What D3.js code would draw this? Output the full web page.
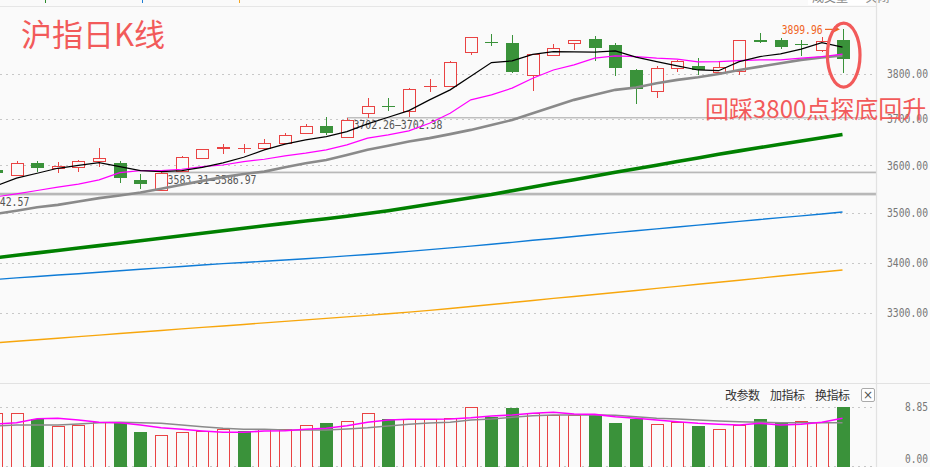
<!DOCTYPE html>
<html><head><meta charset="utf-8">
<script src="https://cdn.jsdelivr.net/npm/d3@7"></script>
<style>html,body{margin:0;padding:0;background:#fafafa;overflow:hidden}</style>
</head><body><svg id="c" width="930" height="467"></svg>
<script>
// ---------- DATA ----------
const days = d3.range(42);            // trading-day index, 0 = partially visible first candle
const open  = [3590.4,3579.3,3605.2,3593.1,3596.0,3608.8,3605.2,3569.5,3548.0,3587.7,3615.3,3635.9,3635.4,3635.9,3647.5,3668.9,3684.0,3660.3,3711.3,3728.7,3716.6,3770.4,3771.8,3847.1,3871.1,3869.1,3795.1,3841.2,3868.4,3877.5,3864.6,3807.9,3760.7,3810.9,3816.3,3802.7,3805.0,3874.7,3875.2,3866.6,3851.6,3875.9];
const high  = [3594.6,3609.5,3609.5,3607.3,3611.5,3636.7,3608.8,3581.4,3585.2,3619.1,3635.9,3646.0,3645.3,3656.7,3668.9,3688.3,3703.4,3702.3,3745.3,3745.3,3768.0,3787.9,3827.2,3882.7,3889.5,3887.9,3844.2,3866.8,3875.9,3884.9,3869.8,3809.0,3817.0,3830.6,3834.4,3827.6,3875.9,3891.7,3880.4,3875.2,3883.4,3899.96];
const low   = [3580.0,3578.5,3586.2,3583.5,3586.8,3596.0,3563.9,3550.1,3546.5,3586.2,3615.3,3624.5,3627.3,3632.4,3646.0,3667.4,3664.6,3658.8,3702.5,3717.9,3704.7,3759.9,3769.8,3841.2,3861.6,3801.1,3762.1,3839.6,3853.2,3829.0,3794.5,3733.4,3746.6,3804.0,3796.0,3796.0,3796.7,3869.1,3856.2,3840.3,3849.4,3801.8];
const close = [3584.1,3604.5,3595.2,3598.1,3608.8,3615.3,3574.3,3561.8,3583.5,3617.4,3634.6,3638.9,3636.3,3647.5,3664.6,3684.0,3668.9,3696.8,3727.6,3727.9,3765.1,3771.3,3825.4,3882.0,3870.2,3802.7,3843.5,3857.1,3875.2,3858.4,3813.1,3766.5,3811.8,3826.0,3807.9,3812.5,3875.2,3873.8,3860.7,3865.7,3872.9,3833.5];

const ma5   = [3557.0,3573.1,3583.5,3593.9,3600.2,3605.8,3597.3,3588.9,3586.8,3588.9,3596.0,3605.2,3617.4,3633.1,3645.3,3654.5,3661.6,3672.4,3688.9,3703.4,3717.9,3741.5,3763.6,3793.8,3824.5,3828.3,3843.0,3849.2,3848.7,3848.0,3851.0,3836.7,3826.7,3817.0,3807.9,3806.3,3826.7,3838.1,3844.2,3854.8,3869.8,3859.3];
const ma10  = [3534.0,3540.3,3547.2,3554.3,3560.5,3569.5,3584.8,3588.9,3588.9,3591.9,3597.3,3600.9,3607.9,3613.1,3620.2,3626.0,3633.1,3643.8,3658.2,3665.3,3673.9,3690.4,3712.2,3741.5,3752.6,3767.4,3789.4,3807.9,3819.3,3834.4,3839.6,3838.1,3834.4,3832.2,3826.0,3826.7,3829.0,3830.6,3830.6,3834.4,3838.1,3843.5];
const ma20  = [3498.6,3505.4,3512.5,3517.3,3524.2,3531.3,3536.7,3543.0,3550.7,3559.1,3567.4,3575.2,3582.0,3586.8,3596.0,3604.5,3611.6,3622.3,3633.1,3641.7,3650.9,3658.2,3666.8,3676.0,3686.8,3697.5,3712.2,3726.8,3741.5,3752.6,3763.6,3768.7,3778.4,3785.7,3791.6,3798.9,3807.9,3815.4,3823.1,3830.6,3835.8,3840.3];
const ma60  = [3409.7,3414.5,3419.4,3424.3,3429.1,3434.0,3438.9,3443.8,3449.0,3453.9,3459.0,3464.1,3469.3,3474.4,3479.3,3484.0,3488.8,3493.9,3499.4,3505.4,3511.9,3518.6,3525.5,3532.3,3539.0,3546.8,3554.5,3562.2,3569.9,3577.7,3585.4,3592.9,3600.4,3608.2,3615.9,3623.6,3630.9,3638.0,3644.9,3651.9,3659.1,3666.1];
const ma120 = [3366.4,3369.4,3372.1,3375.1,3377.8,3380.8,3383.6,3386.5,3389.3,3392.2,3395.2,3397.8,3400.1,3402.6,3405.1,3407.7,3410.3,3413.3,3416.2,3419.2,3422.5,3425.9,3429.4,3433.0,3436.9,3440.7,3444.8,3448.6,3452.5,3456.6,3460.4,3464.3,3468.1,3472.0,3475.6,3479.5,3483.4,3487.2,3491.1,3494.7,3498.6,3502.5];
const ma250 = [3243.2,3246.1,3249.1,3252.0,3255.1,3257.9,3261.0,3263.9,3266.7,3269.8,3272.7,3275.5,3278.4,3281.5,3284.3,3287.2,3290.1,3293.1,3296.0,3299.0,3302.2,3305.6,3309.3,3313.2,3317.1,3321.1,3325.0,3329.0,3332.9,3336.8,3340.6,3344.5,3348.7,3352.6,3356.8,3360.9,3364.8,3369.0,3373.1,3377.1,3381.2,3385.1];

const volume = [7.84,7.84,7.09,6.03,6.18,6.58,6.53,5.17,4.67,4.98,5.17,5.43,5.28,5.53,5.43,6.18,6.53,6.78,7.84,7.09,6.94,6.94,7.09,8.80,7.43,8.74,7.94,7.59,7.54,7.69,6.53,7.09,6.33,6.58,6.03,5.43,6.18,7.09,6.58,6.73,6.58,8.85];
const volUp  = [1,1,0,1,1,1,0,0,1,1,1,1,0,1,1,1,0,1,1,0,1,1,1,1,0,0,1,1,1,0,0,0,1,1,0,1,1,0,0,1,1,0];
const vma5  = [6.33,6.53,7.13,7.19,6.94,6.59,6.53,6.18,5.77,5.53,5.28,5.08,5.08,5.28,5.32,5.53,5.68,6.08,6.59,6.94,7.04,7.04,7.09,7.28,7.54,7.69,7.95,8.10,7.84,7.79,7.43,7.19,6.94,6.68,6.44,6.29,6.18,6.44,6.18,6.29,6.59,7.19];
const vma10 = [6.03,6.18,6.18,6.18,6.33,6.53,6.59,6.53,6.44,6.18,5.93,5.68,5.53,5.53,5.43,5.43,5.43,5.58,5.77,6.03,6.29,6.48,6.59,6.94,7.09,7.34,7.58,7.69,7.69,7.69,7.64,7.43,7.19,7.09,6.94,6.78,6.68,6.59,6.53,6.53,6.53,6.53];

const priceTicks = [3300,3400,3500,3600,3700,3800];
const volTicks = [0,8.85];
const gapLow   = [3537.00,3583.31,3702.26];
const gapHigh  = [3542.57,3586.97,3702.38];
const gapStart = [-3,8,17];
const titleText = '沪指日K线';
const noteText = '回踩3800点探底回升';
const highLabel = '3899.96';
const menuItems = ['改参数','加指标','换指标'];

// ---------- DRAW ----------
const W = 930, H = 467, plotR = 876;
const svg = d3.select('#c');
const x  = d3.scaleLinear().domain([0, 41]).range([-4.15, 842.5]);
const y  = d3.scaleLog().domain([3300, 3800]).range([313.3, 73.5]);
const yv = d3.scaleLinear().domain([0, 8.85]).range([466, 407.3]);
const bw = 13;
const RED = '#e94343', GRN = '#3a923a';
const MONO = '"DejaVu Sans Mono", monospace';
const CJK = '"Noto Sans CJK SC", sans-serif';

svg.append('rect').attr('width', W).attr('height', H).attr('fill', '#fafafa');
const defs = svg.append('defs');
defs.append('clipPath').attr('id', 'cm').append('rect').attr('x', 0).attr('y', 7).attr('width', plotR).attr('height', 376);
defs.append('clipPath').attr('id', 'cv').append('rect').attr('x', 0).attr('y', 384).attr('width', plotR).attr('height', 83);

// top strip
svg.append('line').attr('x1', 0).attr('x2', plotR).attr('y1', 6.5).attr('y2', 6.5).attr('stroke', '#e6e6e6');
[['#2a8a2a', 45], ['#1f7fd6', 142], ['#f5a623', 239]].forEach(([c, px]) =>
  svg.append('rect').attr('x', px).attr('y', 0).attr('width', 1).attr('height', 3).attr('fill', c));
svg.append('rect').attr('x', 808).attr('y', 0).attr('width', 59).attr('height', 5).attr('fill', '#fff');
svg.append('text').attr('x', 812).attr('y', 2).attr('font-family', CJK).attr('font-size', 12).attr('fill', '#888').text('成交量 · 关闭');

const main = svg.append('g').attr('clip-path', 'url(#cm)');

// dotted grid
main.selectAll('line.grid').data(priceTicks).join('line')
  .attr('x1', 0).attr('x2', plotR).attr('y1', d => Math.round(y(d)) + 0.5).attr('y2', d => Math.round(y(d)) + 0.5)
  .attr('stroke', '#c8c8c8').attr('stroke-dasharray', '2,4');

// gap bands (lower/upper bound of each price gap)
const gaps = gapLow.map((lo, i) => ({lo, hi: gapHigh[i], s: gapStart[i]}));
gaps.forEach(g => {
  const top = y(g.hi), bot = y(g.lo);
  const hgt = Math.max(1.3, bot - top);
  const x0 = Math.max(0, x(g.s));
  main.append('rect').attr('x', x0).attr('width', plotR - x0)
    .attr('y', (top + bot) / 2 - hgt / 2).attr('height', hgt).attr('fill', '#b8b8b8');
  main.append('text').attr('x', x(g.s) + 6.5).attr('y', y(g.lo) + 11)
    .attr('font-family', MONO).attr('font-size', 11.5).attr('fill', '#555')
    .attr('textLength', 89).attr('lengthAdjust', 'spacingAndGlyphs')
    .text(d3.format('.2f')(g.lo) + '—' + d3.format('.2f')(g.hi));
});

// candles
const cd = days.map(i => ({i, o: open[i], h: high[i], l: low[i], c: close[i]}));
const cg = main.append('g').attr('shape-rendering', 'crispEdges');
cd.forEach(d => {
  const up = d.c >= d.o;
  const xc = Math.round(x(d.i)) + 0.5;
  const top = y(Math.max(d.o, d.c)), bot = y(Math.min(d.o, d.c));
  if (up) {
    cg.append('line').attr('x1', xc).attr('x2', xc).attr('y1', y(d.h)).attr('y2', top).attr('stroke', RED);
    cg.append('line').attr('x1', xc).attr('x2', xc).attr('y1', bot).attr('y2', y(d.l)).attr('stroke', RED);
    cg.append('rect').attr('x', xc - 6).attr('y', top).attr('width', 12).attr('height', Math.max(0.6, bot - top))
      .attr('fill', '#fafafa').attr('stroke', RED).attr('stroke-width', 1);
  } else {
    cg.append('line').attr('x1', xc).attr('x2', xc).attr('y1', y(d.h)).attr('y2', y(d.l)).attr('stroke', GRN);
    cg.append('rect').attr('x', xc - 6.5).attr('y', top).attr('width', bw).attr('height', Math.max(1.2, bot - top)).attr('fill', GRN);
  }
});

// moving averages
const line = d3.line().x((d, i) => x(i)).y(d => y(d));
[[ma250, '#f7a60c', 1.4], [ma120, '#0e7bd6', 1.4], [ma60, '#008000', 3.6], [ma20, '#8a8a8a', 2.6], [ma10, '#ff00ff', 1.2], [ma5, '#000000', 1.2]]
  .forEach(([arr, col, w]) => main.append('path').attr('d', line(arr)).attr('fill', 'none').attr('stroke', col).attr('stroke-width', w));

// high label + arrow
const hy = y(high[41]);
svg.append('text').attr('x', 781.7).attr('y', hy + 4.2).attr('font-family', MONO).attr('font-size', 11.5)
  .attr('fill', '#f0641e').attr('textLength', 41).attr('lengthAdjust', 'spacingAndGlyphs').text(highLabel);
svg.append('line').attr('x1', 825).attr('x2', 836).attr('y1', hy).attr('y2', hy).attr('stroke', '#f0641e').attr('stroke-width', 1.2);
svg.append('path').attr('d', `M840,${hy} L834,${hy - 3} L834,${hy + 3} Z`).attr('fill', '#f0641e');

// separators
svg.append('line').attr('x1', 0).attr('x2', W).attr('y1', 383.5).attr('y2', 383.5).attr('stroke', '#e2e2e2').attr('stroke-width', 1.2);
svg.append('line').attr('x1', plotR + 0.5).attr('x2', plotR + 0.5).attr('y1', 0).attr('y2', H).attr('stroke', '#e2e2e2').attr('stroke-width', 1.2);

// price axis
const ax = svg.append('g').attr('transform', `translate(${plotR},0)`)
  .call(d3.axisRight(y).tickValues(priceTicks).tickFormat(d3.format('.2f')).tickSize(0).tickPadding(11));
ax.select('.domain').remove();
ax.selectAll('text').attr('font-family', MONO).attr('font-size', 11.5).attr('fill', '#777')
  .attr('textLength', 41).attr('lengthAdjust', 'spacingAndGlyphs');

// annotations
svg.append('text').attr('x', 21).attr('y', 46).attr('font-family', CJK).attr('font-size', 31).attr('fill', '#f25a5a').text(titleText);
svg.append('text').attr('x', 705).attr('y', 117.5).attr('font-family', CJK).attr('font-size', 24).attr('fill', '#f25a5a').text(noteText);
svg.append('ellipse').attr('cx', x(41) + 1.2).attr('cy', (y(high[41]) + y(low[41])) / 2 + 4).attr('rx', 16.3).attr('ry', 32)
  .attr('fill', 'none').attr('stroke', '#f25a5a').attr('stroke-width', 3.2);

// ---------- volume panel ----------
const vol = svg.append('g').attr('clip-path', 'url(#cv)');
vol.selectAll('line.vg').data(volTicks).join('line')
  .attr('x1', 0).attr('x2', plotR).attr('y1', d => Math.round(yv(d)) + 0.5).attr('y2', d => Math.round(yv(d)) + 0.5)
  .attr('stroke', '#c8c8c8').attr('stroke-dasharray', '2,4');
const vg = vol.append('g').attr('shape-rendering', 'crispEdges');
days.forEach(i => {
  const xc = Math.round(x(i)) + 0.5;
  if (volUp[i]) {
    vg.append('rect').attr('x', xc - 6).attr('y', yv(volume[i])).attr('width', 12).attr('height', yv(0) - yv(volume[i]) + 4)
      .attr('fill', '#fafafa').attr('stroke', RED);
  } else {
    vg.append('rect').attr('x', xc - 6.5).attr('y', yv(volume[i])).attr('width', bw).attr('height', yv(0) - yv(volume[i]) + 4).attr('fill', GRN);
  }
});
const vline = d3.line().x((d, i) => x(i)).y(d => yv(d));
vol.append('path').attr('d', vline(vma10)).attr('fill', 'none').attr('stroke', '#8a8a8a').attr('stroke-width', 1.5);
vol.append('path').attr('d', vline(vma5)).attr('fill', 'none').attr('stroke', '#ff00ff').attr('stroke-width', 1.6);

const vax = svg.append('g').attr('transform', `translate(${plotR},0)`)
  .call(d3.axisRight(yv).tickValues(volTicks).tickFormat(d3.format('.2f')).tickSize(0).tickPadding(29));
vax.select('.domain').remove();
vax.selectAll('text').attr('font-family', MONO).attr('font-size', 11.5).attr('fill', '#777')
  .attr('textLength', 23).attr('lengthAdjust', 'spacingAndGlyphs')
  .attr('dy', d => d === 0 ? '-0.3em' : '0.32em');

// menu
const mx = [725, 770, 815];
menuItems.forEach((t, i) => svg.append('text').attr('x', mx[i]).attr('y', 399.5).attr('font-family', CJK)
  .attr('font-size', 12).attr('fill', '#333').attr('textLength', 35).text(t));
svg.append('rect').attr('x', 861.5).attr('y', 388.5).attr('width', 13).attr('height', 13).attr('rx', 1.5)
  .attr('fill', '#fff').attr('stroke', '#aaa');
svg.append('text').attr('x', 868).attr('y', 399).attr('text-anchor', 'middle').attr('font-family', '"DejaVu Sans", sans-serif')
  .attr('font-size', 12).attr('fill', '#555').text('×');
</script></body></html>
